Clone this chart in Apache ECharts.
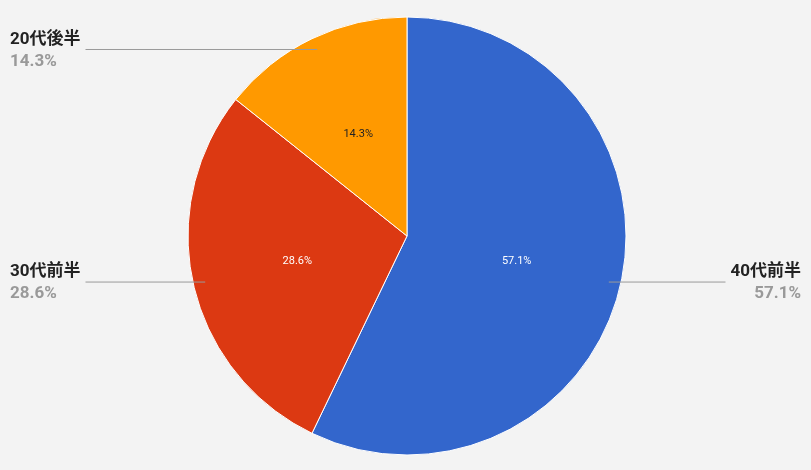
<!DOCTYPE html>
<html>
<head>
<meta charset="utf-8">
<script src="https://cdn.jsdelivr.net/npm/echarts@6/dist/echarts.min.js"></script>
<style>html,body{margin:0;padding:0;background:#f3f3f3;}#chart{width:811px;height:470px;}</style>
</head>
<body>
<div id="chart"></div>
<script>
const names = ["40代前半", "30代前半", "20代後半"];
const counts = [4, 2, 1];
const colors = ["#3366CC", "#DC3912", "#FF9900"];
const innerColors = ["#fff", "#fff", "#222"];

const total = counts.reduce((a, b) => a + b, 0);
const pct = v => (v / total * 100).toFixed(1) + "%";

const chart = echarts.init(document.getElementById("chart"));
chart.setOption({
  backgroundColor: "#f3f3f3",
  animation: false,
  textStyle: { fontFamily: "Roboto, 'Noto Sans CJK JP', sans-serif" },
  series: [
    {
      type: "pie",
      center: [407, 236],
      radius: [0, 219],
      startAngle: 90,
      clockwise: true,
      data: names.map((n, i) => ({
        name: n, value: counts[i],
        itemStyle: { color: colors[i] },
        label: { color: innerColors[i] }
      })),
      itemStyle: { borderColor: "#fff", borderWidth: 1 },
      label: {
        show: true,
        position: "inner",
        fontSize: 11,
        formatter: p => pct(p.value)
      },
      labelLine: { show: false }
    },
    {
      type: "pie",
      center: [407, 236],
      radius: [0, 207],
      startAngle: 90,
      clockwise: true,
      silent: true,
      z: 3,
      data: names.map((n, i) => ({ name: n, value: counts[i] })),
      itemStyle: { color: "rgba(0,0,0,0)" },
      label: {
        show: true,
        position: "outside",
        alignTo: "edge",
        edgeDistance: 10,
        formatter: p => "{n|" + p.name + "}\n{v|" + pct(p.value) + "}",
        rich: {
          n: { fontSize: 17, fontWeight: "bold", color: "#222", lineHeight: 24 },
          v: { fontSize: 17, fontWeight: "bold", color: "#999", lineHeight: 20 }
        }
      },
      labelLine: {
        show: true,
        length: 0,
        length2: 20,
        lineStyle: { color: "#999", width: 1 }
      }
    }
  ]
});
</script>
</body>
</html>
